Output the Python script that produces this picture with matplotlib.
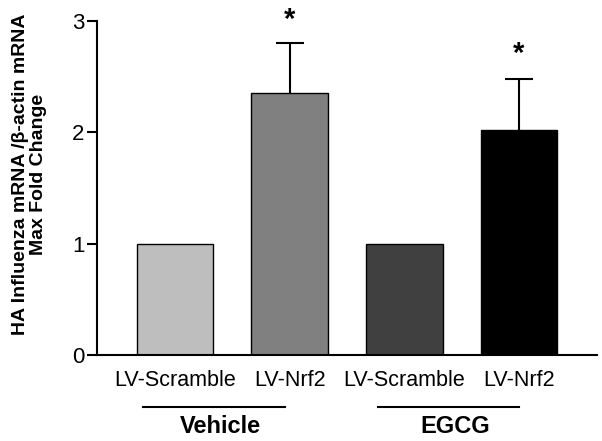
import numpy as np
import matplotlib.pyplot as plt

plt.rcParams['font.family'] = ['Liberation Sans', 'DejaVu Sans']

categories = ['LV-Scramble', 'LV-Nrf2', 'LV-Scramble', 'LV-Nrf2']
values = [1.0, 2.35, 1.0, 2.02]
errors = [0.0, 0.45, 0.0, 0.46]
colors = ['#bebebe', '#808080', '#404040', '#000000']
groups = ['Vehicle', 'EGCG']
group_lines = [(-0.28, 0.96), (1.77, 3.0)]
stars = [(1, 3.01), (3, 2.70)]

fig = plt.figure(figsize=(6.02, 4.41), dpi=100)
ax = fig.add_axes([97/602, 1 - 355/441, 500/602, 334/441])

x = np.arange(len(categories))
ax.bar(x, values, width=0.67, color=colors, edgecolor='black', linewidth=1.0, zorder=2)
# symmetric error bars drawn behind the bars so only the upper half shows
for xi, v, e in zip(x, values, errors):
    if e > 0:
        ax.errorbar(xi, v, yerr=e, fmt='none', ecolor='black',
                    elinewidth=1.5, capsize=10, capthick=1.5, zorder=1)

for xi, ys in stars:
    ax.text(xi, ys, '*', ha='center', va='center', fontsize=21, fontweight='bold')

ax.set_xlim(-0.68, 3.68)
ax.set_ylim(0, 3)
ax.set_yticks([0, 1, 2, 3])
ax.set_xticks(x)
ax.set_xticklabels(categories, fontsize=15.5)
ax.tick_params(axis='x', length=0, pad=11)
ax.tick_params(axis='y', length=7, width=1.5, labelsize=16, pad=2)
for s in ['top', 'right']:
    ax.spines[s].set_visible(False)
for s in ['left', 'bottom']:
    ax.spines[s].set_linewidth(1.5)

ax.set_ylabel('HA Influenza mRNA /β-actin mRNA\nMax Fold Change', fontsize=14,
              fontweight='bold', linespacing=1.05)
ax.yaxis.set_label_coords(-0.1, 0.54)

tr = ax.get_xaxis_transform()
for (x0, x1), g in zip(group_lines, groups):
    ax.plot([x0, x1], [-0.156, -0.156], color='black', lw=1.5, transform=tr, clip_on=False)
    ax.text((x0 + x1) / 2 + 0.06, -0.215, g, transform=tr, ha='center', va='center',
            fontsize=17, fontweight='bold')

fig.savefig('out.png', dpi=100)
